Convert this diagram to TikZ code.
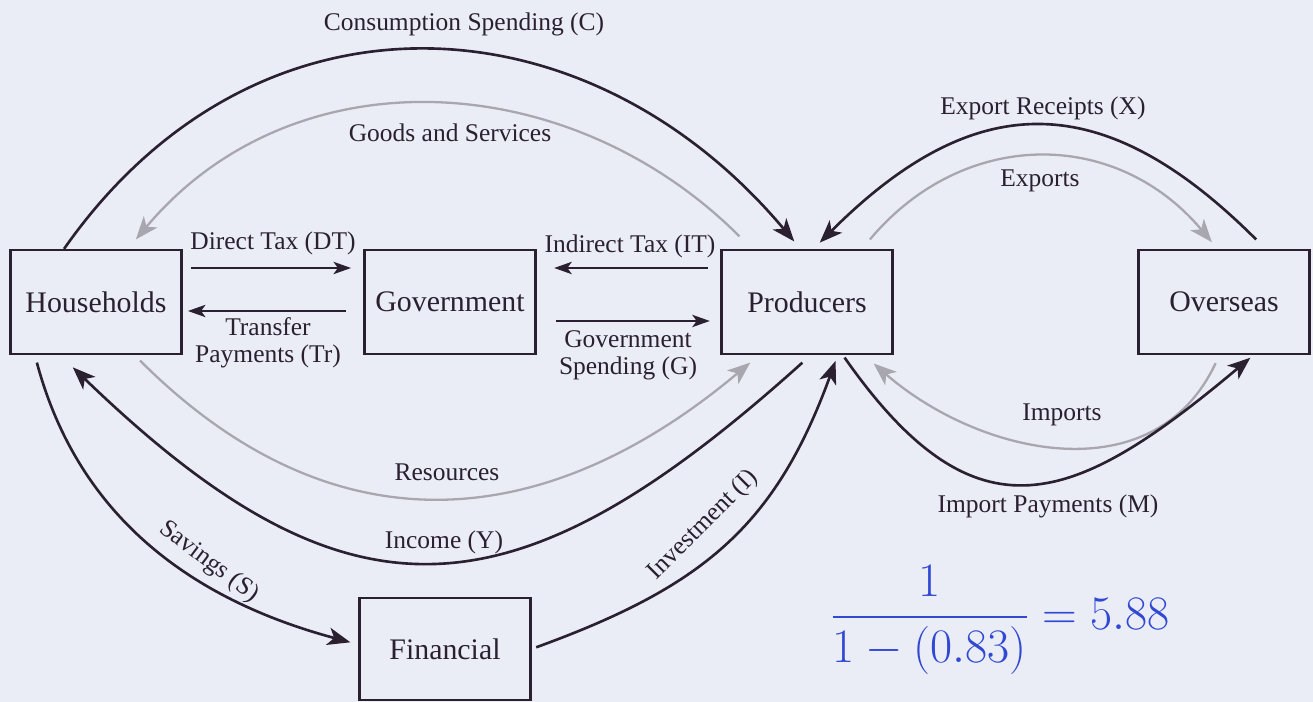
\documentclass[tikz,border=0pt]{standalone}
\usepackage{amsmath}
\usepackage{fontspec}
\setmainfont{Liberation Serif}
\usetikzlibrary{arrows.meta}
\definecolor{paper}{RGB}{235,237,246}
\definecolor{ink}{RGB}{42,32,48}
\definecolor{flowgray}{RGB}{168,166,174}
\definecolor{pen}{RGB}{48,72,210}

\begin{document}
\begin{tikzpicture}[x=0.02cm,y=0.02cm,
  sector/.style={draw=ink,line width=1.3pt,minimum width=3.42cm,minimum height=2.08cm,text=ink,font=\fontsize{17}{20}\selectfont},
  money/.style={draw=ink,line width=1.5pt,-{Stealth[length=13pt,width=10pt,inset=3.5pt]}},
  real/.style={draw=flowgray,line width=1.3pt,-{Stealth[length=13pt,width=10pt,inset=3.5pt]}},
  tax/.style={draw=ink,line width=1.2pt,-{Stealth[length=10pt,width=7pt,inset=2.5pt]}},
  lbl/.style={text=ink,font=\fontsize{14.5}{15.5}\selectfont,align=center,inner sep=0pt}]
\useasboundingbox (0,0) rectangle (1313,702);
\fill [paper] (0,0) rectangle (1313,702);

\node [sector] (hh) at (96,400) {Households};
\node [sector] (gov) at (450,400) {Government};
\node [sector] (prod) at (807,400) {Producers};
\node [sector] (ovs) at (1224,400) {Overseas};
\node [sector,minimum height=2.04cm] (fin) at (445,53) {Financial};

\draw [tax] [shorten <=5pt,shorten >=7pt] ([yshift=0.68cm]hh.east) -- ([yshift=0.68cm]gov.west);
\draw [tax] [shorten <=10pt,shorten >=3pt] ([yshift=-0.18cm]gov.west) -- ([yshift=-0.18cm]hh.east);
\draw [tax] [shorten <=7pt,shorten >=10pt] ([yshift=0.68cm]prod.west) -- ([yshift=0.68cm]gov.east);
\draw [tax] [shorten <=11pt,shorten >=6pt] ([yshift=-0.38cm]gov.east) -- ([yshift=-0.38cm]prod.west);

\draw [money] [shorten >=5.5pt] (hh.121) to [out=55,in=130,looseness=1.16] (prod.97);
\draw [real] [shorten <=10pt,shorten >=7pt] (prod.136) to [out=135,in=50,looseness=1.06] (hh.59);
\draw [money] [shorten <=7.5pt,shorten >=5pt] (ovs.52) to [out=135,in=45,looseness=1.3] (prod.83);
\draw [real] [shorten <=7pt,shorten >=5pt] (prod.44) to [out=50,in=130,looseness=1.14] (ovs.97);
\draw [real] [shorten <=5pt,shorten >=7.3pt] (ovs.265) to [out=-115,in=-41,looseness=1.11] (prod.-43);
\draw [money] [shorten <=1.7pt,shorten >=2.3pt] (prod.-56) to [out=-55,in=-140,looseness=1.46] (ovs.-61);
\draw [real] [shorten <=4.4pt,shorten >=6.6pt] (hh.-54) to [out=-45,in=-140,looseness=1.15] (prod.-132);
\draw [money] [shorten <=6.4pt,shorten >=10pt] (prod.-86) to [out=-138,in=-44,looseness=1.37] (hh.-124);
\draw [money] [shorten <=4.4pt,shorten >=4.7pt] (hh.-139) to [out=-75,in=165] (fin.177);
\draw [money] [shorten <=2.8pt,shorten >=3.5pt] (fin.east) to [out=20,in=-110,looseness=1.1] (prod.-60);

\node [lbl] (lcons) at (464,678) {Consumption Spending (C)};
\node [lbl] (lgoods) at (450,569) {Goods and Services};
\node [lbl] (ldt) at (273,459) {Direct Tax (DT)};
\node [lbl] (ltr) at (268,359) {Transfer\\Payments (Tr)};
\node [lbl] (lit) at (630,456) {Indirect Tax (IT)};
\node [lbl] (lgs) at (628,347) {Government\\Spending (G)};
\node [lbl] (lx) at (1043,594) {Export Receipts (X)};
\node [lbl] (lexp) at (1040,521) {Exports};
\node [lbl] (limp) at (1062,287) {Imports};
\node [lbl] (lm) at (1048,196) {Import Payments (M)};
\node [lbl] (lres) at (447,230) {Resources};
\node [lbl] (linc) at (444,160) {Income (Y)};
\node [lbl,rotate=-37] (lsav) at (209,140) {Savings (S)};
\node [lbl,rotate=45] (linv) at (703,177) {Investment (I)};
\node [pen,font=\fontsize{25}{30}\selectfont,scale=1.1,transform shape] (mult) at (1000,82) {$\displaystyle\frac{1}{1-(0.83)}=5.88$};

\end{tikzpicture}
\end{document}
